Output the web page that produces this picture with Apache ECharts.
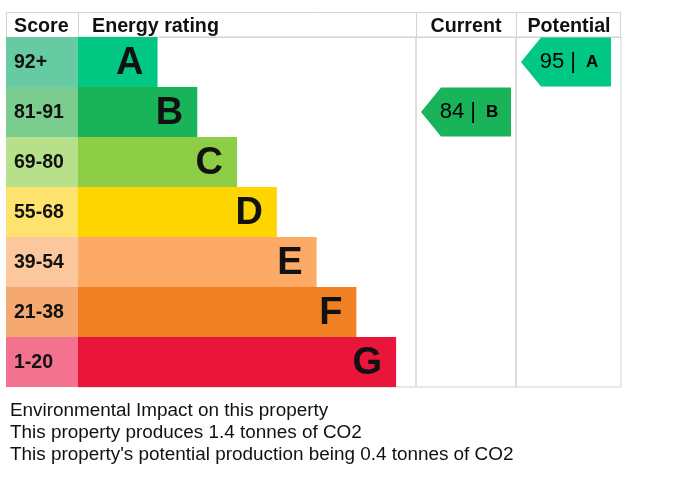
<!DOCTYPE html>
<html>
<head>
<meta charset="utf-8">
<script src="https://cdn.jsdelivr.net/npm/echarts@6/dist/echarts.min.js"></script>
<style>
  html, body { margin: 0; padding: 0; background: #fff; }
  #main { width: 694px; height: 481px; }
</style>
</head>
<body>
<div id="main"></div>
<script>
// EPC table data
var ratings = ["A", "B", "C", "D", "E", "F", "G"];
var scoreRanges = ["92+", "81-91", "69-80", "55-68", "39-54", "21-38", "1-20"];
var bandMin = [92, 81, 69, 55, 39, 21, 1];
var barLength = [2, 3, 4, 5, 6, 7, 8];
var barColors = ["#00c781", "#19b459", "#8dce46", "#ffd500", "#fcaa65", "#ef8023", "#e9153b"];
var scoreColors = ["#66cba2", "#7acd8e", "#b7e08b", "#fde36e", "#fcc79c", "#f5a86f", "#f27290"];
var currentScore = 84;
var potentialScore = 95;
var notes = [
  "Environmental Impact on this property",
  "This property produces 1.4 tonnes of CO2",
  "This property's potential production being 0.4 tonnes of CO2"
];

var FONT = "Liberation Sans, Arial, sans-serif";
var LINE = "#d3d3d3";

function bandIndex(score) {
  for (var i = 0; i < bandMin.length; i++) {
    if (score >= bandMin[i]) return i;
  }
  return bandMin.length - 1;
}

var chart = echarts.init(document.getElementById("main"));

var TOP = 37, H = 350;
var grids = [
  { left: 6, top: TOP, width: 72, height: H },
  { left: 78, top: TOP, width: 338, height: H, show: true, borderColor: LINE, borderWidth: 1 },
  { left: 416, top: TOP, width: 100, height: H, show: true, borderColor: LINE, borderWidth: 1 },
  { left: 516, top: TOP, width: 105, height: H, show: true, borderColor: LINE, borderWidth: 1 }
];
var xMax = [1, 8.5, 1, 1];

var xAxes = grids.map(function (g, i) {
  return { type: "value", gridIndex: i, min: 0, max: xMax[i], show: false };
});
var yAxes = grids.map(function (g, i) {
  return { type: "category", gridIndex: i, data: ratings, inverse: true, show: false };
});

function arrowSeries(gridIdx, score) {
  var idx = bandIndex(score);
  return {
    type: "custom",
    xAxisIndex: gridIdx,
    yAxisIndex: gridIdx,
    data: [[0, idx, score, ratings[idx]]],
    renderItem: function (params, api) {
      var cs = params.coordSys;
      var cy = api.coord([0, api.value(1)])[1];
      var h = api.size([0, 1])[1] - 1;
      var x0 = cs.x + 5, x1 = x0 + 90, tip = 20;
      var y0 = cy - h / 2, y1 = cy + h / 2;
      return {
        type: "group",
        children: [
          {
            type: "polygon",
            shape: { points: [[x0, cy], [x0 + tip, y0], [x1, y0], [x1, y1], [x0 + tip, y1]] },
            style: { fill: barColors[idx] }
          },
          {
            type: "text",
            x: x0 + 48,
            y: cy,
            style: {
              text: "{n|" + api.value(2) + " |}   {l|" + ratings[idx] + "}",
              align: "center",
              verticalAlign: "middle",
              rich: {
                n: { fontFamily: FONT, fontSize: 22, color: "#1a1a1a" },
                l: { fontFamily: FONT, fontSize: 17, fontWeight: "bold", color: "#1a1a1a" }
              }
            }
          }
        ]
      };
    }
  };
}

var headStyle = { fontFamily: FONT, fontSize: 19.7, fontWeight: "bold", color: "#111" };

var option = {
  backgroundColor: "#fff",
  animation: false,
  grid: grids,
  xAxis: xAxes,
  yAxis: yAxes,
  title: [
    { text: "Score", left: 14, top: 17, padding: 0, textStyle: headStyle },
    { text: "Energy rating", left: 92, top: 17, padding: 0, textStyle: headStyle },
    { text: "Current", left: 466, textAlign: "center", top: 17, padding: 0, textStyle: headStyle },
    { text: "Potential", left: 569, textAlign: "center", top: 17, padding: 0, textStyle: headStyle },
    { text: notes.join("\n"), left: 10, top: 400, padding: 0, textStyle: { fontFamily: FONT, fontSize: 18.9, fontWeight: "normal", color: "#111", lineHeight: 22 } }
  ],
  graphic: [
    { type: "rect", shape: { x: 6.5, y: 12.5, width: 614, height: 25 }, style: { fill: "none", stroke: LINE, lineWidth: 1 } },
    { type: "line", shape: { x1: 78.5, y1: 12, x2: 78.5, y2: 37 }, style: { stroke: LINE, lineWidth: 1 } },
    { type: "line", shape: { x1: 416.5, y1: 12, x2: 416.5, y2: 37 }, style: { stroke: LINE, lineWidth: 1 } },
    { type: "line", shape: { x1: 516.5, y1: 12, x2: 516.5, y2: 37 }, style: { stroke: LINE, lineWidth: 1 } }
  ],
  series: [
    {
      type: "bar",
      xAxisIndex: 0,
      yAxisIndex: 0,
      barCategoryGap: 0,
      data: scoreRanges.map(function (s, i) {
        return { value: 1, itemStyle: { color: scoreColors[i] } };
      }),
      label: {
        show: true,
        position: "insideLeft",
        distance: 8,
        offset: [0, 1],
        formatter: function (p) { return scoreRanges[p.dataIndex]; },
        fontFamily: FONT,
        fontSize: 19.5,
        fontWeight: "bold",
        color: "#111"
      }
    },
    {
      type: "bar",
      xAxisIndex: 1,
      yAxisIndex: 1,
      barCategoryGap: 0,
      data: barLength.map(function (v, i) {
        return { value: v, itemStyle: { color: barColors[i] } };
      }),
      label: {
        show: true,
        position: "insideRight",
        distance: 14,
        offset: [0, 2],
        formatter: function (p) { return ratings[p.dataIndex]; },
        fontFamily: FONT,
        fontSize: 38,
        fontWeight: "bold",
        color: "#111"
      }
    },
    arrowSeries(2, currentScore),
    arrowSeries(3, potentialScore)
  ]
};

chart.setOption(option);
</script>
</body>
</html>
